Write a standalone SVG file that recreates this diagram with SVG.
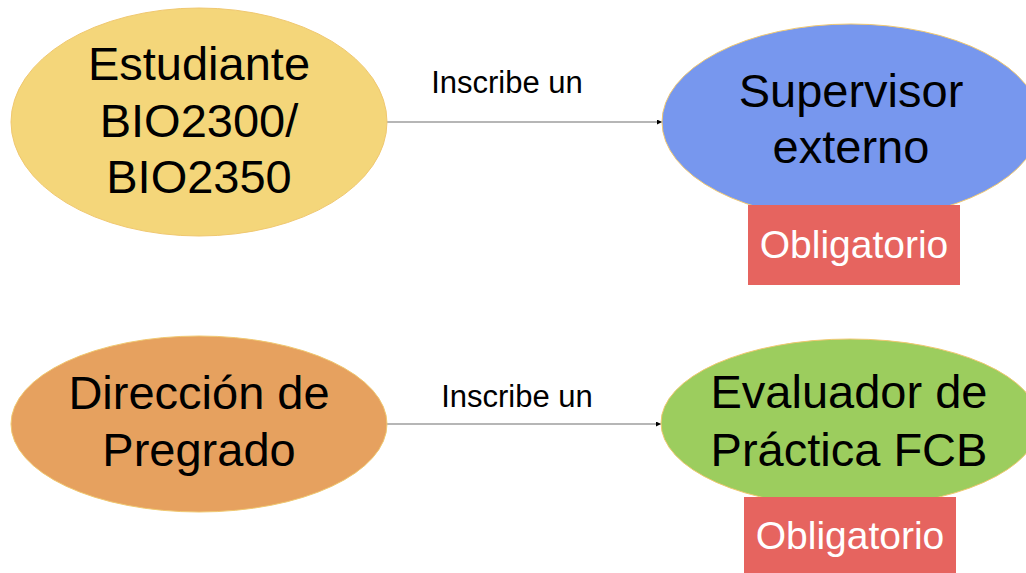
<svg xmlns="http://www.w3.org/2000/svg" width="1026" height="573" viewBox="0 0 1026 573">
<style>
text{font-family:"Liberation Sans",Arial,sans-serif;text-anchor:middle}
.big{font-size:47px;fill:#000}
.lbl{font-size:31px;fill:#000}
.tag{font-size:39px;fill:#fff}
.conn{stroke:#9e9e9e;stroke-width:1.3;fill:none}
</style>
<defs>
<marker id="ah" viewBox="0 0 10 10" refX="10" refY="5" markerWidth="5" markerHeight="5" orient="auto" markerUnits="userSpaceOnUse"><path d="M0,0L10,5L0,10z" fill="#000"/></marker>
</defs>
<rect width="1026" height="573" fill="#fff"/>
<g id="connectors">
<line class="conn" x1="387" y1="122" x2="662" y2="122" marker-end="url(#ah)"/>
<line class="conn" x1="387" y1="424" x2="661" y2="424" marker-end="url(#ah)"/>
<text class="lbl" x="507" y="93">Inscribe un</text>
<text class="lbl" x="517" y="407">Inscribe un</text>
</g>
<g id="n-estudiante">
<ellipse cx="199" cy="122" rx="188" ry="114" fill="#f4d67a" stroke="#f0c870" stroke-width="1"/>
<text class="big" x="199" y="80">Estudiante</text>
<text class="big" x="199" y="137">BIO2300/</text>
<text class="big" x="199" y="193">BIO2350</text>
</g>
<g id="n-supervisor">
<ellipse cx="851" cy="122" rx="189" ry="98" fill="#7797ee" stroke="#f0c870" stroke-width="1"/>
<text class="big" x="851" y="107">Supervisor</text>
<text class="big" x="851" y="163">externo</text>
</g>
<g id="n-oblig1">
<rect x="748" y="205" width="212" height="80" fill="#e6645f"/>
<text class="tag" x="854" y="258">Obligatorio</text>
</g>
<g id="n-direccion">
<ellipse cx="199" cy="424" rx="188" ry="88" fill="#e6a15f" stroke="#f0c870" stroke-width="1"/>
<text class="big" x="199" y="409">Dirección de</text>
<text class="big" x="199" y="466">Pregrado</text>
</g>
<g id="n-evaluador">
<ellipse cx="850" cy="423" rx="189" ry="84" fill="#9ccd5e" stroke="#f0c870" stroke-width="1"/>
<text class="big" x="849" y="408">Evaluador de</text>
<text class="big" x="849" y="466">Práctica FCB</text>
</g>
<g id="n-oblig2">
<rect x="744" y="497" width="212" height="76" fill="#e6645f"/>
<text class="tag" x="850" y="549">Obligatorio</text>
</g>
</svg>
